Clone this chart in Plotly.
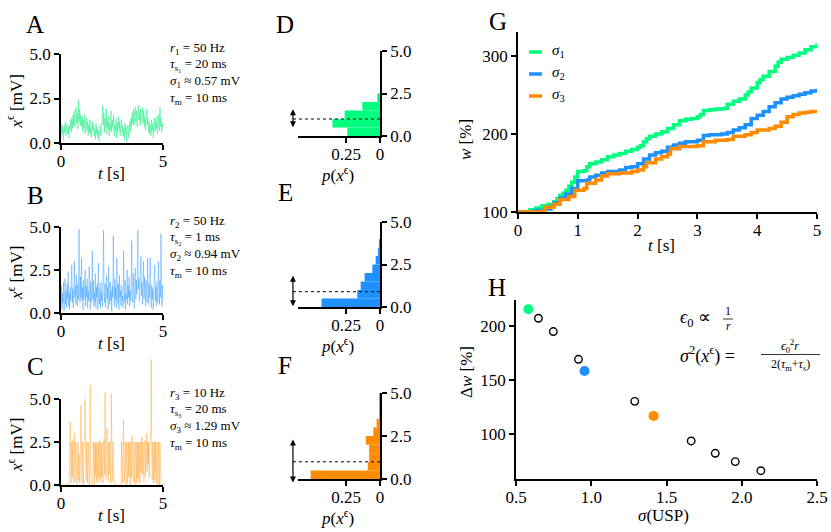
import plotly.graph_objects as go
import numpy as np

# ---------------- data ----------------
trace_a = [0.3,1.1,0.5,0.9,0.2,1.0,0.6,1.2,0.4,0.8,1.1,0.5,0.9,0.3,1.0,0.7,1.3,0.6,1.4,0.8,1.6,1.0,1.8,0.9,1.5,2.0,1.1,1.7,0.8,2.4,1.2,1.9,1.0,1.6,
           0.9,1.5,0.6,1.3,0.8,1.6,0.5,1.1,1.4,0.7,1.2,0.4,1.0,0.6,1.3,0.5,0.9,0.3,1.2,0.7,1.0,0.4,0.8,0.2,1.1,0.5,0.9,0.3,0.7,0.1,0.6,1.0,0.4,0.8,
           1.3,2.1,1.0,1.7,0.6,1.4,0.9,1.9,0.5,1.2,0.8,1.5,0.4,1.1,0.7,1.8,0.6,1.3,0.9,1.6,0.4,1.0,0.7,1.4,0.3,1.1,0.6,1.5,0.8,1.2,0.4,0.9,1.3,0.6,
           1.0,0.4,0.8,0.2,1.1,0.5,0.9,0.05,0.6,1.0,0.3,0.8,1.2,0.6,1.4,0.9,1.7,1.1,1.9,1.0,1.6,2.0,1.2,1.8,0.9,1.5,2.1,1.3,1.7,1.0,1.9,1.2,1.6,2.0,
           1.1,1.8,0.9,1.5,0.7,1.3,1.9,1.0,1.4,0.6,1.2,0.5,1.0,0.4,1.3,0.7,1.1,0.3,0.9,1.4,0.6,1.2,0.8,1.5,0.5,1.0,1.6,0.7,2.0,0.9,1.4,0.6,1.1,0.8]
trace_b = [0.4,1.6,0.2,1.1,0.6,1.8,0.1,0.9,2.0,0.5,1.3,0.3,1.7,0.8,2.4,0.4,1.2,0.2,1.5,0.7,
           1.9,2.8,0.6,1.4,0.3,1.8,3.0,0.9,1.6,0.5,2.2,1.0,0.4,1.7,0.8,4.9,1.3,0.6,2.1,0.9,
           3.2,0.7,1.5,0.2,1.9,0.8,1.2,2.5,0.4,1.6,0.9,2.0,0.3,1.3,0.7,2.7,1.1,0.2,1.8,0.6,
           1.4,3.6,0.8,1.9,0.4,1.2,0.6,2.3,0.3,1.5,0.9,1.7,0.2,2.9,1.0,0.5,1.4,0.3,1.8,0.7,
           1.2,0.4,2.0,4.8,1.1,0.6,1.7,0.3,1.4,2.2,0.8,1.5,0.2,2.7,1.0,0.5,1.8,0.7,1.3,0.1,
           1.6,0.9,4.5,1.2,0.4,2.0,0.8,1.5,0.3,3.2,1.1,0.6,1.7,0.2,2.2,0.9,1.3,0.4,1.6,0.7,
           1.0,0.3,3.6,1.4,0.6,1.9,0.2,1.1,0.8,2.5,0.5,1.6,0.9,2.1,0.4,1.3,0.7,1.8,4.2,1.0,
           0.6,2.3,1.2,0.3,1.7,2.6,0.8,1.9,1.1,2.4,4.8,1.4,2.0,0.7,1.6,2.8,3.3,1.0,1.8,0.5,
           1.5,3.0,0.8,2.1,1.2,0.4,1.9,1.0,0.6,3.2,1.3,0.5,1.7,0.9,3.2,1.1,0.3,1.6,0.8,1.4,
           0.2,1.2,2.0,2.8,0.7,1.5,0.4,1.8,1.0,0.6,3.0,1.3,0.5,1.9,0.9,4.6,1.2,0.4,1.6,0.8]
trace_c = [0,0,0,0,0,0,0,0,0,0,0,0,0,0.1,0,0,0,2.5,3.7,0.6,
           0.1,2.5,0.4,2.6,0.8,0.1,3.0,1.2,0.2,2.5,0.5,0.1,0,2.5,0.3,1.8,0.2,0.1,2.4,4.65,
           0.7,0.1,2.5,0.5,0,2.5,3.0,5.0,0.9,0.2,2.5,0.6,0.1,2.5,0.4,0,0.1,5.8,1.1,0.2,
           0.1,0,0,2.5,0.3,0,2.5,0.6,2.4,0.2,2.5,0.8,0.1,2.5,0.4,2.6,1.0,0.2,2.5,0.5,
           2.5,0.3,0.1,2.5,2.7,0.6,5.4,1.2,0.3,2.5,3.3,0.9,0.2,2.5,0.6,2.5,0.4,0.1,5.3,1.0,
           0.2,2.5,2.5,0.5,0.1,0,0,0,0,0,0,0,0,0,0,0,0,0,2.5,0.4,
           0.1,2.5,3.8,0.8,0.2,2.5,0.3,0,2.5,0.6,0.1,2.5,0.5,2.5,0.2,0,2.5,0.4,2.5,2.9,
           0.8,0.2,2.5,0.3,0,2.5,0.6,0.1,2.5,0.4,2.5,0.2,2.5,0.5,0.1,2.5,0.7,2.5,2.8,0.6,
           2.5,0.9,0.2,2.5,2.6,0.5,2.5,3.0,0.8,2.5,1.2,2.5,0.4,2.5,2.7,3.0,7.3,1.5,0.3,2.5,
           0.6,0.1,2.5,0.3,2.5,0.5,0.1,2.5,0.4,0,2.5,0.3,0,2.5,0.2,0,0,0,0,0]
t_end = 5.0

hist_bins = [0.25, 0.75, 1.25, 1.75, 2.25, 2.75, 3.25, 3.75, 4.25, 4.75]
hist_d = [0.24, 0.35, 0.26, 0.13, 0.02, 0, 0, 0, 0, 0]
hist_e = [0.43, 0.167, 0.142, 0.113, 0.056, 0.032, 0.015, 0.005, 0, 0]
hist_f = [0.51, 0.09, 0.08, 0.08, 0.105, 0.049, 0.025, 0.007, 0.004, 0.002]
means = [1.0, 0.9, 1.0]
sigmas = [0.57, 0.94, 1.29]
rates = [50, 50, 10]
tau_s = [20, 1, 20]
tau_m = 10

g1_t = [0, 0.2, 0.3, 0.4, 0.5, 0.6, 0.65, 0.7, 0.75, 0.8, 0.85, 0.9, 0.95, 1.0, 1.1, 1.15, 1.2, 1.3, 1.4, 1.5, 1.6, 1.7, 1.8, 1.9, 2.0, 2.05, 2.1, 2.15, 2.2, 2.3, 2.4, 2.5, 2.6, 2.7, 2.8, 2.9, 3.0, 3.05, 3.1, 3.2, 3.3, 3.45, 3.5, 3.6, 3.7, 3.8, 3.85, 3.9, 4.0, 4.05, 4.1, 4.2, 4.3, 4.35, 4.4, 4.5, 4.6, 4.7, 4.8, 4.9, 5.0]
g1_w = [100, 103, 105, 108, 110, 113, 117, 121, 124, 128, 133, 138, 145, 152, 153, 158, 162, 164, 167, 171, 173, 175, 178, 180, 183, 185, 190, 194, 197, 200, 203, 207, 212, 217, 219, 220, 222, 225, 230, 231, 232, 233, 238, 242, 245, 250, 254, 259, 266, 270, 274, 280, 287, 292, 296, 298, 301, 304, 308, 312, 316]
g2_t = [0, 0.3, 0.45, 0.55, 0.6, 0.7, 0.8, 0.9, 1.0, 1.15, 1.2, 1.3, 1.4, 1.5, 1.7, 1.8, 1.9, 2.0, 2.1, 2.2, 2.3, 2.4, 2.5, 2.6, 2.7, 2.8, 3.0, 3.1, 3.2, 3.4, 3.5, 3.6, 3.7, 3.8, 3.9, 4.0, 4.1, 4.2, 4.3, 4.4, 4.5, 4.6, 4.7, 4.8, 4.9, 5.0]
g2_w = [100, 102, 104, 107, 112, 118, 123, 130, 140, 141, 145, 147, 150, 152, 154, 157, 158, 162, 168, 173, 176, 178, 183, 186, 188, 190, 192, 198, 199, 200, 202, 205, 208, 212, 220, 224, 229, 235, 240, 245, 247, 249, 251, 253, 255, 258]
g3_t = [0, 0.4, 0.45, 0.6, 0.7, 0.85, 0.95, 1.1, 1.15, 1.3, 1.4, 1.5, 1.7, 1.9, 2.0, 2.1, 2.15, 2.3, 2.4, 2.5, 2.55, 2.7, 3.0, 3.1, 3.3, 3.5, 3.6, 3.8, 3.9, 4.0, 4.2, 4.3, 4.4, 4.5, 4.6, 4.7, 4.8, 4.9, 5.0]
g3_w = [100, 101, 106, 110, 116, 120, 128, 130, 137, 141, 146, 149, 150, 152, 154, 158, 163, 168, 171, 174, 181, 184, 185, 190, 192, 193, 197, 199, 202, 205, 207, 210, 215, 222, 225, 227, 228, 229, 230]

h_sigma = [0.582, 0.649, 0.748, 0.915, 0.955, 1.289, 1.414, 1.664, 1.824, 1.957, 2.127]
h_dw = [215.4, 207.1, 194.8, 169.1, 158.3, 130.2, 116.7, 93.5, 82.1, 74.4, 66.0]
h_highlight = [0, 4, 6]   # indices of the three example settings

COLORS = ["#00FF7F", "#1E90FF", "#FF8C00"]
TRACE_RGBA = ["rgba(0,235,120,0.5)", "rgba(30,144,255,0.45)", "rgba(255,140,0,0.4)"]

# ---------------- layout helpers ----------------
FONT = "Liberation Serif"
W, H = 831, 532
def fx(p): return p / W
def fy(p): return 1 - p / H

axis_style = dict(showgrid=False, zeroline=False, showline=True, linecolor="black", linewidth=1.5,
                  ticks="outside", ticklen=5, tickwidth=1.5, tickcolor="black", automargin=False,
                  tickfont=dict(family=FONT, size=17, color="black"), fixedrange=True)
xaxis_style = dict(axis_style, ticklabelstandoff=-3)
hidden = dict(visible=False, showgrid=False, zeroline=False, fixedrange=True, automargin=False)

fig = go.Figure()
layout = dict(width=W, height=H, margin=dict(l=0, r=0, t=0, b=0, pad=0, autoexpand=False),
              paper_bgcolor="white", plot_bgcolor="rgba(0,0,0,0)", showlegend=False,
              font=dict(family=FONT, size=16, color="black"))
annotations = []
shapes = []

def ann(text, x, y, size=16, xanchor="center", yanchor="middle", angle=0):
    annotations.append(dict(text=text, x=fx(x), y=fy(y), xref="paper", yref="paper",
                            showarrow=False, xanchor=xanchor, yanchor=yanchor, textangle=angle,
                            font=dict(family=FONT, size=size, color="black")))

# ---------------- A, B, C : traces ----------------
trace_px = [(143, 54), (313, 227), (485, 399)]
traces = [trace_a, trace_b, trace_c]
for k in range(3):
    n = k + 1
    sx = "" if n == 1 else str(n)
    y0, y5 = trace_px[k]
    layout["xaxis" + sx] = dict(xaxis_style, domain=[fx(61), fx(163)], range=[0, 5], anchor="y" + sx,
                                tickvals=[0, 5], ticktext=["0", "5"])
    layout["yaxis" + sx] = dict(axis_style, domain=[fy(y0), fy(y5)], range=[0, 5], anchor="x" + sx,
                                tickvals=[0, 2.5, 5], ticktext=["0.0", "2.5", "5.0"])
    vals = traces[k]
    tt = np.linspace(0, t_end, len(vals))
    if k < 2:
        fig.add_trace(go.Scatter(x=tt, y=vals, mode="lines", xaxis="x" + sx, yaxis="y" + sx,
                                 line=dict(color=TRACE_RGBA[k], width=0.9), hoverinfo="skip"))
    else:
        # overlay axes with the same scale but taller, so spikes above 5 show (spine stays 0..5)
        s = (y0 - y5) / 5.0
        ytop = 350
        layout["xaxis9"] = dict(hidden, domain=[fx(61), fx(163)], range=[0, 5], anchor="y9")
        layout["yaxis9"] = dict(hidden, domain=[fy(y0), fy(ytop)], range=[0, (y0 - ytop) / s], anchor="x9")
        fig.add_trace(go.Scatter(x=[None], y=[None], xaxis="x3", yaxis="y3", hoverinfo="skip"))
        fig.add_trace(go.Scatter(x=tt, y=vals, mode="lines", xaxis="x9", yaxis="y9",
                                 line=dict(color=TRACE_RGBA[k], width=0.9), hoverinfo="skip"))
    # labels
    ann("<i>x</i><sup>ϵ</sup> [mV]", 15, (y0 + y5) / 2 + 3, size=17, angle=-90)
    ann("<i>t</i> [s]", 111, y0 + 30, size=17)
    lines = [f"<i>r</i><sub>{n}</sub> = {rates[k]} Hz",
             f"<i>τ</i><sub>s{chr(0x2080 + n)}</sub> = {tau_s[k]} ms",
             f"<i>σ</i><sub>{n}</sub> ≈ {sigmas[k]:.2f} mV",
             f"<i>τ</i><sub>m</sub> = {tau_m} ms"]
    for j, ln in enumerate(lines):
        ann(ln, 168, y5 - 6 + j * 16.7, size=13, xanchor="left")

# ---------------- D, E, F : histograms ----------------
hist_px = [(136, 51), (307, 222), (479, 393)]
hists = [hist_d, hist_e, hist_f]
x_right, x_left, px_per_unit = 380, 298, 136.0
for k in range(3):
    ax = 4 + k
    ov = 10 + k
    y0, y5 = hist_px[k]
    s = (y0 - y5) / 5.0
    layout[f"xaxis{ax}"] = dict(xaxis_style, domain=[fx(x_left), fx(x_right)],
                                range=[(x_right - x_left) / px_per_unit, 0], anchor=f"y{ax}",
                                tickvals=[0.25, 0], ticktext=["0.25", "0"])
    layout[f"yaxis{ax}"] = dict(axis_style, domain=[fy(y0), fy(y5)], range=[0, 5], anchor=f"x{ax}",
                                side="right", tickvals=[0, 2.5, 5], ticktext=["0.0", "2.5", "5.0"])
    fig.add_trace(go.Bar(y=hist_bins, x=hists[k], orientation="h", width=0.5,
                         marker=dict(color=COLORS[k], line=dict(width=0)),
                         xaxis=f"x{ax}", yaxis=f"y{ax}", hoverinfo="skip"))
    # overlay axes (same scale, wider) for the mean line and ±σ arrow
    xl_o, yb_o = 284, y0 + 14
    layout[f"xaxis{ov}"] = dict(hidden, domain=[fx(xl_o), fx(x_right)],
                                range=[(x_right - xl_o) / px_per_unit, 0], anchor=f"y{ov}")
    layout[f"yaxis{ov}"] = dict(hidden, domain=[fy(yb_o), fy(y5)],
                                range=[-(yb_o - y0) / s, 5], anchor=f"x{ov}")
    arrow_x = 0.64
    fig.add_trace(go.Scatter(x=[arrow_x, 0], y=[means[k], means[k]], mode="lines",
                             line=dict(color="black", width=1, dash="dot"),
                             xaxis=f"x{ov}", yaxis=f"y{ov}", hoverinfo="skip"))
    annotations.append(dict(x=arrow_x, y=means[k] + sigmas[k], ax=arrow_x, ay=means[k] - sigmas[k],
                            xref=f"x{ov}", yref=f"y{ov}", axref=f"x{ov}", ayref=f"y{ov}",
                            text="", showarrow=True, arrowhead=2, arrowside="end+start",
                            arrowsize=1, arrowwidth=1.2, arrowcolor="black"))
    ann("<i>p</i>(<i>x</i><sup>ϵ</sup>)", 337, y0 + 38, size=17)

# ---------------- G ----------------
layout["xaxis7"] = dict(xaxis_style, domain=[fx(518), fx(817)], range=[0, 5], anchor="y7",
                        tickvals=[0, 1, 2, 3, 4, 5])
layout["yaxis7"] = dict(axis_style, domain=[fy(212), fy(32)], range=[100, 330.8], anchor="x7",
                        tickvals=[100, 200, 300])
g_series = [(g1_t, g1_w), (g2_t, g2_w), (g3_t, g3_w)]
for k, (tt, ww) in enumerate(g_series):
    fig.add_trace(go.Scatter(x=tt, y=ww, mode="lines", line=dict(color=COLORS[k], width=3.5, shape="hv"),
                             xaxis="x7", yaxis="y7", hoverinfo="skip"))
    ly = 52 + 22 * k
    shapes.append(dict(type="line", xref="paper", yref="paper", x0=fx(529), x1=fx(542), y0=fy(ly), y1=fy(ly),
                       line=dict(color=COLORS[k], width=3.5)))
    ann(f"<i>σ</i><sub>{k + 1}</sub>", 550, ly - 1, size=15, xanchor="left")
ann("<i>w</i> [%]", 466, 140, size=17, angle=-90)
ann("<i>t</i> [s]", 661, 246, size=17)

# ---------------- H ----------------
layout["xaxis8"] = dict(xaxis_style, domain=[fx(516), fx(817)], range=[0.5, 2.5], anchor="y8",
                        tickvals=[0.5, 1.0, 1.5, 2.0, 2.5], ticktext=["0.5", "1.0", "1.5", "2.0", "2.5"])
layout["yaxis8"] = dict(axis_style, domain=[fy(479), fy(300)], range=[58.3, 224], anchor="x8",
                        tickvals=[100, 150, 200])
open_x = [v for i, v in enumerate(h_sigma) if i not in h_highlight]
open_y = [v for i, v in enumerate(h_dw) if i not in h_highlight]
fig.add_trace(go.Scatter(x=open_x, y=open_y, mode="markers", xaxis="x8", yaxis="y8", hoverinfo="skip",
                         marker=dict(symbol="circle-open", size=7.5, color="black", line=dict(width=1.4))))
for k, idx in enumerate(h_highlight):
    fig.add_trace(go.Scatter(x=[h_sigma[idx]], y=[h_dw[idx]], mode="markers", xaxis="x8", yaxis="y8",
                             hoverinfo="skip", marker=dict(size=10, color=COLORS[k])))
ann("Δ<i>w</i> [%]", 466, 372, size=17, angle=-90)
ann("<i>σ</i>(USP)", 663, 515, size=17)
# formulas
ann("<i>ϵ</i><sub>0</sub> ∝", 678, 318, size=18, xanchor="left")
ann("1", 728, 311, size=12)
ann("<i>r</i>", 728, 326, size=12)
shapes.append(dict(type="line", xref="paper", yref="paper", x0=fx(723), x1=fx(733), y0=fy(319), y1=fy(319),
                   line=dict(color="black", width=0.8)))
ann("<i>σ</i><sup>2</sup>(<i>x</i><sup>ϵ</sup>) =", 678, 355, size=18, xanchor="left")
ann("<i>ϵ</i><sub>0</sub><sup>2</sup><i>r</i>", 790, 346, size=12)
ann("2(<i>τ</i><sub>m</sub>+<i>τ</i><sub>s</sub>)", 790, 365, size=12)
shapes.append(dict(type="line", xref="paper", yref="paper", x0=fx(761), x1=fx(820), y0=fy(354.5), y1=fy(354.5),
                   line=dict(color="black", width=0.8)))

# ---------------- panel letters ----------------
for letter, (x, y) in zip("ABCDEFGH", [(35, 25), (35, 195), (35, 366), (285, 25), (285, 192),
                                        (285, 365), (498, 22), (497, 287)]):
    ann(letter, x, y, size=25)

layout["annotations"] = annotations
layout["shapes"] = shapes
fig.update_layout(**layout)
fig.write_html("out.html", config={"displayModeBar": False},
               post_script="document.body.style.margin='0';document.body.style.overflow='hidden';")
